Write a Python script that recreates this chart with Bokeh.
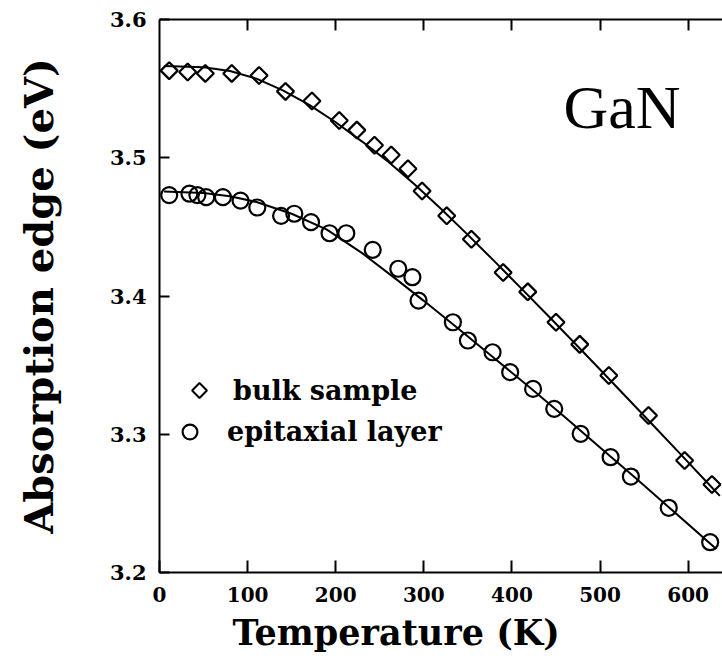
import math
from bokeh.plotting import figure
from bokeh.models import (LinearAxis, FixedTicker, Label, Legend, LegendItem, Range1d,
                          Title)
from bokeh.embed import file_html
from bokeh.resources import INLINE

# ---- data ----
bulk_T = [11, 32, 52, 82, 113, 143, 173, 204, 224, 244, 263, 282, 298, 326, 354,
          390, 418, 450, 477, 510, 555, 596, 627]
bulk_E = [3.563, 3.562, 3.561, 3.561, 3.5595, 3.548, 3.541, 3.527, 3.520, 3.509,
          3.502, 3.492, 3.476, 3.458, 3.441, 3.417, 3.403, 3.381, 3.365, 3.3425,
          3.3136, 3.281, 3.2637]

epi_T = [11, 34, 43, 53, 72, 92, 111, 138, 153, 172, 193, 212, 242, 271, 287, 294,
         333, 350, 378, 398, 424, 448, 478, 512, 535, 578, 625]
epi_E = [3.473, 3.474, 3.473, 3.4715, 3.4715, 3.469, 3.464, 3.458, 3.4595, 3.4534,
         3.4454, 3.4454, 3.4334, 3.4197, 3.4136, 3.3967, 3.381, 3.3678, 3.3593,
         3.3449, 3.3328, 3.3184, 3.3003, 3.2834, 3.2694, 3.2468, 3.2219]

bulk_fit_T = [5, 50, 80, 110, 140, 170, 200, 230, 260, 290, 320, 350, 380, 410, 440,
              470, 500, 530, 560, 590, 620, 636]
bulk_fit_E = [3.5663, 3.5655, 3.5628, 3.5572, 3.5487, 3.5382, 3.5257, 3.5117, 3.4970,
              3.4805, 3.4628, 3.4442, 3.4252, 3.4059, 3.3864, 3.3667, 3.3468, 3.3268,
              3.3067, 3.2865, 3.2662, 3.2554]

epi_fit_T = [5, 50, 80, 110, 150, 190, 230, 270, 300, 340, 380, 420, 460, 500, 540,
             580, 632]
epi_fit_E = [3.4756, 3.4745, 3.4722, 3.4680, 3.4595, 3.4480, 3.4310, 3.4115, 3.3965,
             3.3760, 3.3550, 3.3340, 3.3125, 3.2905, 3.2685, 3.2462, 3.2170]

x_ticks = [0, 100, 200, 300, 400, 500, 600]
y_ticks = [3.2, 3.3, 3.4, 3.5, 3.6]

series_labels = ["bulk sample", "epitaxial layer"]
x_title = "Temperature (K)"
y_title = "Absorption edge (eV)"
material = "GaN"

SERIF_B = "DejaVu Serif"

# layout of the frame (pixels)
W, H = 722, 659
F_LEFT, F_TOP, F_BOTTOM = 159, 19, 572
X0, X1 = 0, 639
Y0, Y1 = 3.2, 3.6


def px_to_data(px, py):
    """Convert a window pixel position into data coordinates of the frame."""
    x = X0 + (px - F_LEFT) * (X1 - X0) / (W - F_LEFT)
    y = Y1 - (py - F_TOP) * (Y1 - Y0) / (F_BOTTOM - F_TOP)
    return x, y


p = figure(width=W, height=H, x_range=Range1d(X0, X1), y_range=Range1d(Y0, Y1),
           output_backend="svg", toolbar_location=None,
           min_border_left=F_LEFT, min_border_right=0, min_border_top=F_TOP,
           min_border_bottom=H - F_BOTTOM)
p.outline_line_color = None
p.grid.visible = False
p.background_fill_color = "white"
p.border_fill_color = "white"

# bottom axis
xa = p.xaxis[0]
xa.ticker = FixedTicker(ticks=x_ticks)
xa.major_tick_in = 12
xa.major_tick_out = 0
xa.minor_tick_line_color = None
xa.axis_line_width = 2
xa.major_tick_line_width = 2
xa.major_label_text_font = SERIF_B
xa.major_label_text_font_style = "bold"
xa.major_label_text_font_size = "20px"
xa.major_label_text_color = "black"
xa.major_label_standoff = 14

# left axis
ya = p.yaxis[0]
ya.ticker = FixedTicker(ticks=y_ticks)
ya.major_tick_in = 10
ya.major_tick_out = 0
ya.minor_tick_line_color = None
ya.axis_line_width = 2
ya.major_tick_line_width = 2
ya.major_label_text_font = SERIF_B
ya.major_label_text_font_style = "bold"
ya.major_label_text_font_size = "21px"
ya.major_label_text_color = "black"
ya.major_label_standoff = 13
ya.axis_label = y_title
ya.axis_label_text_font = SERIF_B
ya.axis_label_text_font_style = "bold"
ya.axis_label_text_font_size = "40px"
ya.axis_label_text_color = "black"
ya.axis_label_standoff = 45

# top axis (ticks only)
top = LinearAxis(ticker=FixedTicker(ticks=x_ticks[1:]),
                 major_label_overrides={t: "" for t in x_ticks},
                 major_label_text_font_size="0px", major_label_standoff=0,
                 major_tick_in=11, major_tick_out=0, minor_tick_line_color=None,
                 axis_line_width=2, major_tick_line_width=2)
p.add_layout(top, "above")

# x axis title, placed off-centre like in the original
p.add_layout(Title(text=x_title, align="left", offset=73, text_font=SERIF_B,
                   text_font_style="bold", text_font_size="35px", text_color="black",
                   standoff=12, vertical_align="middle"), "below")

# data
r_bulk = p.scatter(bulk_T, bulk_E, marker="square", size=12, angle=math.pi / 4,
                   fill_color=None, line_color="black", line_width=2.2)
r_epi = p.scatter(epi_T, epi_E, marker="circle", size=16,
                  fill_color=None, line_color="black", line_width=2.2)
p.line(bulk_fit_T, bulk_fit_E, line_color="black", line_width=2)
p.line(epi_fit_T, epi_fit_E, line_color="black", line_width=2)

# legend
common = dict(padding=0, margin=0, spacing=0, border_line_alpha=0,
              background_fill_alpha=0, label_text_font=SERIF_B,
              label_text_font_style="bold", label_text_font_size="27px",
              label_text_color="black")
# the legend cannot rotate a square marker, so its key is drawn separately
r_bulk_proxy = p.scatter(x=[], y=[], marker="square", fill_alpha=0, line_alpha=0)
kx, ky = px_to_data(199, 390)
p.scatter(x=[kx], y=[ky], marker="square", size=10.5, angle=math.pi / 4,
          fill_color=None, line_color="black", line_width=2)
leg1 = Legend(items=[LegendItem(label=series_labels[0], renderers=[r_bulk_proxy])],
              location=(26, 166), glyph_width=27, glyph_height=27,
              label_standoff=21, **common)
leg2 = Legend(items=[LegendItem(label=series_labels[1], renderers=[r_epi])],
              location=(12, 122), glyph_width=37, glyph_height=37,
              label_standoff=19, **common)
p.add_layout(leg1, "center")
p.add_layout(leg2, "center")

# GaN label
gx, gy = px_to_data(563, 106)
p.add_layout(Label(x=gx, y=gy, text=material, text_font="Liberation Serif",
                   text_font_size="62px", text_color="black",
                   text_baseline="alphabetic", text_align="left"))

open("out.html", "w").write(file_html(p, INLINE))
